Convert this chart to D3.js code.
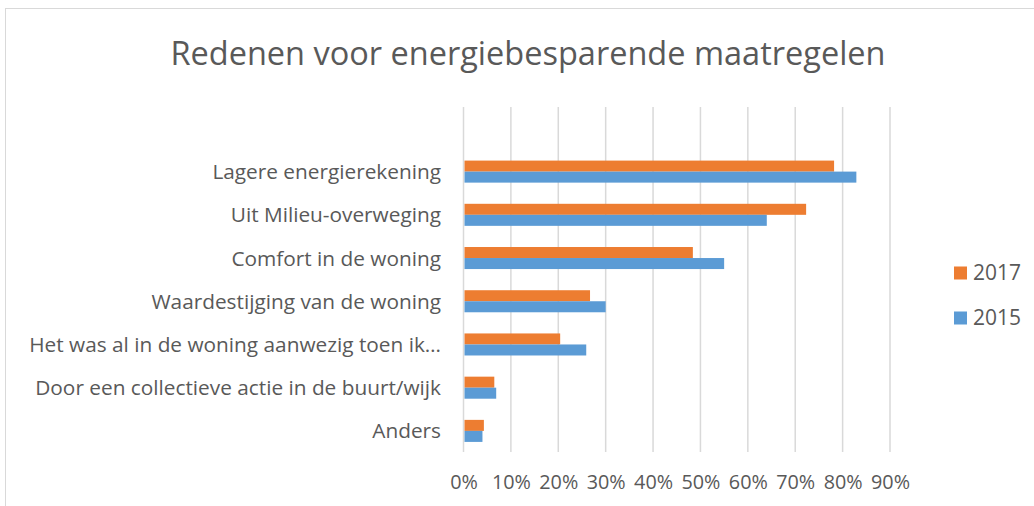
<!DOCTYPE html>
<html>
<head>
<meta charset="utf-8">
<script src="https://cdn.jsdelivr.net/npm/d3@7"></script>
<style>
  body { margin: 0; background: #fff; }
  text { font-family: "Open Sans", Lato, sans-serif; fill: #595959; }
</style>
</head>
<body>
<div id="chart"></div>
<script>
const categories = [
  "Lagere energierekening",
  "Uit Milieu-overweging",
  "Comfort in de woning",
  "Waardestijging van de woning",
  "Het was al in de woning aanwezig toen ik…",
  "Door een collectieve actie in de buurt/wijk",
  "Anders"
];
const years = ["2017", "2015"];
const values2017 = [0.782, 0.723, 0.484, 0.267, 0.204, 0.065, 0.043];
const values2015 = [0.829, 0.640, 0.550, 0.300, 0.259, 0.069, 0.040];
const tickValues = [0, 0.1, 0.2, 0.3, 0.4, 0.5, 0.6, 0.7, 0.8, 0.9];

const colors = { "2017": "#ed7d31", "2015": "#5b9bd5" };
const series = { "2017": values2017, "2015": values2015 };

const width = 1034, height = 506;

const svg = d3.select("#chart").append("svg")
  .attr("width", width)
  .attr("height", height);

// chart area border
svg.append("rect")
  .attr("x", 5.5).attr("y", 8.5)
  .attr("width", 1100).attr("height", 600)
  .attr("fill", "none")
  .attr("stroke", "#d9d9d9");

svg.append("text")
  .attr("x", 528)
  .attr("y", 65)
  .attr("text-anchor", "middle")
  .style("font-size", "32.5px")
  .text("Redenen voor energiebesparende maatregelen");

const x = d3.scaleLinear()
  .domain([0, 0.9])
  .range([463.5, 890]);

const y = d3.scaleBand()
  .domain(categories)
  .range([150, 452.5])
  .paddingInner(0.49)
  .paddingOuter(0.245);

const ySub = d3.scaleBand()
  .domain(years)
  .range([0, y.bandwidth()]);

// gridlines
svg.append("g")
  .selectAll("line")
  .data(tickValues)
  .join("line")
  .attr("x1", d => x(d)).attr("x2", d => x(d))
  .attr("y1", 107).attr("y2", 452)
  .attr("stroke", "#d9d9d9")
  .attr("stroke-width", 1.5);

// bars
const groups = svg.append("g")
  .selectAll("g")
  .data(categories)
  .join("g")
  .attr("transform", d => `translate(0,${y(d)})`);

groups.selectAll("rect")
  .data((d, i) => years.map(yr => ({ yr, v: series[yr][i] })))
  .join("rect")
  .attr("x", x(0) + 1)
  .attr("y", d => ySub(d.yr))
  .attr("width", d => x(d.v) - x(0) - 1)
  .attr("height", ySub.bandwidth())
  .attr("fill", d => colors[d.yr]);

// category labels
svg.append("g")
  .selectAll("text")
  .data(categories)
  .join("text")
  .attr("x", 441)
  .attr("y", d => y(d) + y.bandwidth() / 2)
  .attr("dy", "0.36em")
  .attr("text-anchor", "end")
  .style("font-size", "20.8px")
  .text(d => d);

// x axis tick labels
svg.append("g")
  .call(d3.axisBottom(x)
    .tickValues(tickValues)
    .tickFormat(d3.format(".0%"))
    .tickSize(0)
    .tickPadding(0))
  .attr("transform", "translate(0,475)")
  .call(g => g.select(".domain").remove())
  .call(g => g.selectAll("text")
    .style("font-family", "'Open Sans', Lato, sans-serif")
    .style("font-size", "19.8px")
    .attr("fill", "#595959"));

// legend
const legend = svg.append("g")
  .selectAll("g")
  .data(years)
  .join("g")
  .attr("transform", (d, i) => `translate(954,${273 + i * 45})`);

legend.append("rect")
  .attr("x", 0).attr("y", -6.5)
  .attr("width", 13).attr("height", 13)
  .attr("fill", d => colors[d]);

legend.append("text")
  .attr("x", 19)
  .attr("dy", "0.34em")
  .style("font-size", "21px")
  .text(d => d);
</script>
</body>
</html>
